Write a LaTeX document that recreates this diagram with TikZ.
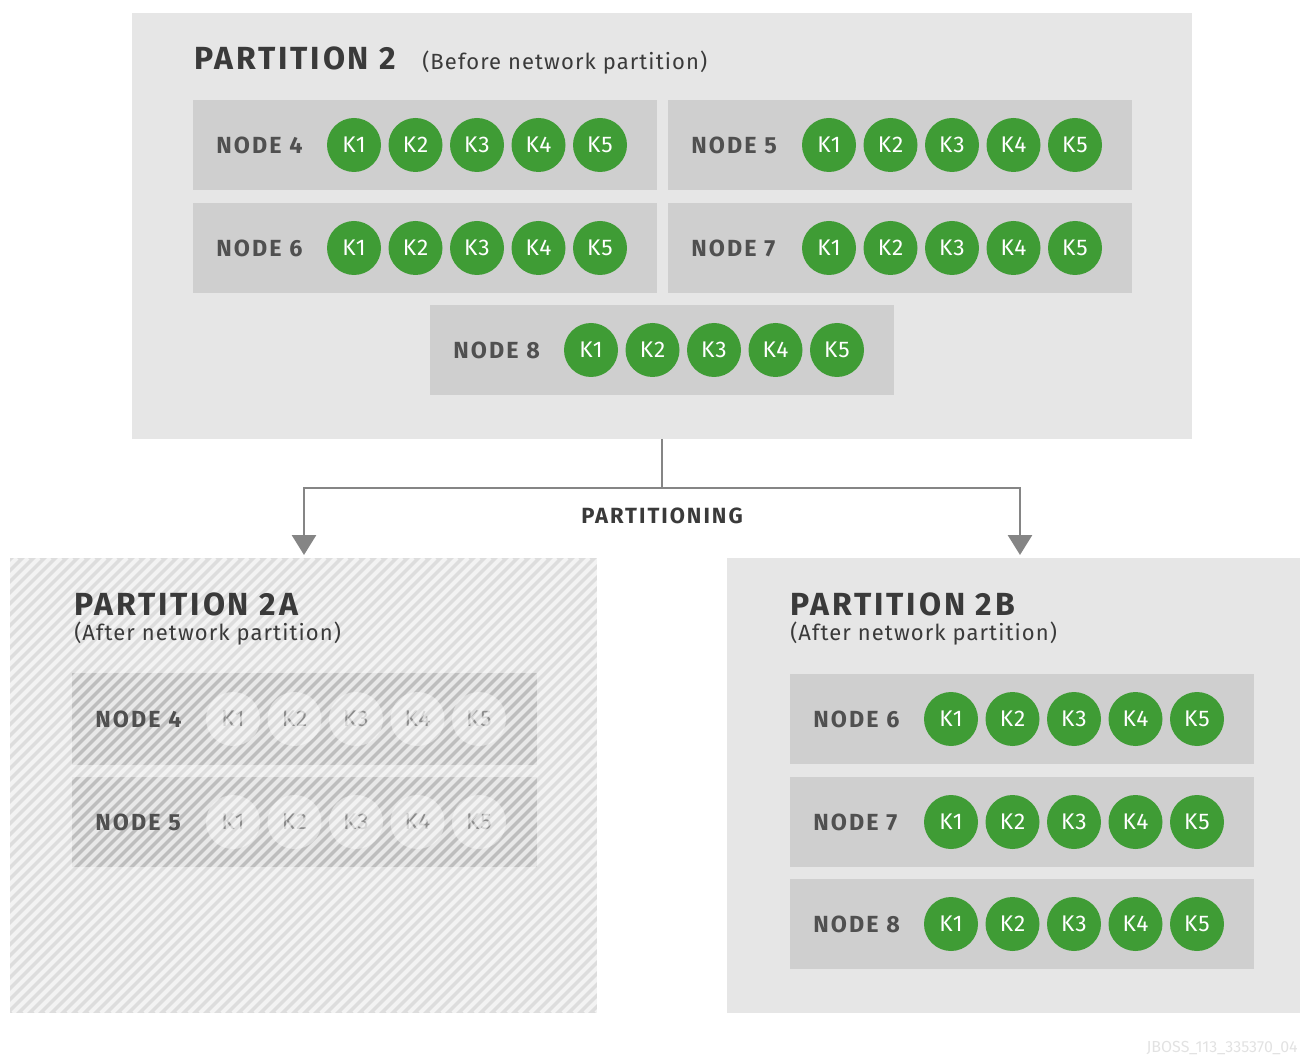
\documentclass[tikz,border=0pt]{standalone}
\usepackage{fontspec}
\setmainfont{Fira Sans}
\usetikzlibrary{fit,arrows.meta}
\definecolor{bgpart}{HTML}{E6E6E6}
\definecolor{nodebox}{HTML}{CFCFCF}
\definecolor{kgreen}{HTML}{3F9C35}
\definecolor{labelgray}{HTML}{505050}
\definecolor{titlegray}{HTML}{3A3A3A}
\definecolor{linegray}{HTML}{858585}
\definecolor{hatchbg}{HTML}{DDDDDD}
\definecolor{hatchbox}{HTML}{BEBEBE}
\definecolor{hatchkey}{HTML}{DADADA}
\definecolor{hatchtext}{HTML}{8C8C8C}
\definecolor{marktext}{HTML}{E2E2E2}
\newcommand{\mkbox}[4]{% name, left x, top y, style
  \node[#4, fit={(#2,#3)(#2+464,#3+90)}] (#1) {};}
\newcommand{\mkkeys}[4]{% name, left x, top y, style
  \foreach \k in {1,...,5}
    \node[#4] (#1k\k) at ({#2+161+61.5*(\k-1)}, #3+45) {K\k};}
\newcommand{\mklabel}[4]{% name, left x, top y, number
  \node[nlabel] (#1lab) at (#2+23,#3+45) {NODE #4};}
\begin{document}
\begin{tikzpicture}[x=0.75pt,y=-0.75pt,
  partbox/.style={fill=bgpart, draw=none, inner sep=0},
  hatchpart/.style={fill=hatchbg, draw=none, inner sep=0},
  nodebg/.style={fill=nodebox, draw=none, inner sep=0},
  hatchnode/.style={fill=hatchbox, draw=none, inner sep=0},
  key/.style={circle, fill=kgreen, text=white, minimum size=40.5pt, inner sep=0, font=\fontsize{17}{17}\selectfont\addfontfeatures{LetterSpace=4}},
  fadekey/.style={circle, fill=hatchkey, text=hatchtext, minimum size=40.5pt, inner sep=0, font=\fontsize{17}{17}\selectfont\addfontfeatures{LetterSpace=4}},
  nlabel/.style={anchor=west, text=labelgray, inner sep=0, font=\bfseries\fontsize{17.5}{17.5}\selectfont\addfontfeatures{LetterSpace=9}},
  title/.style={anchor=base west, text=titlegray, inner sep=0, font=\bfseries\fontsize{24}{24}\selectfont\addfontfeatures{LetterSpace=9}},
  subtitle/.style={anchor=base west, text=titlegray, inner sep=0, font=\fontsize{16.5}{16.5}\selectfont\addfontfeatures{LetterSpace=5}},
  conn/.style={draw=linegray, line width=2.2pt},
  arr/.style={conn, -{Triangle[width=18pt,length=15pt]}},
  stripe/.style={draw=white, opacity=0.65, line width=3pt}
]
\useasboundingbox (0,0) rectangle (1300,1055);

% ---- Partition 2 (before)
\node[partbox, fit={(132,13)(1192,439)}] (p2) {};
\node[title] (p2title) at (194,70) {PARTITION 2};
\node[subtitle] (p2sub) at (422,70) {(Before network partition)};
\mkbox{n4}{193}{100}{nodebg}\mklabel{n4}{193}{100}{4}\mkkeys{n4}{193}{100}{key}
\mkbox{n5}{668}{100}{nodebg}\mklabel{n5}{668}{100}{5}\mkkeys{n5}{668}{100}{key}
\mkbox{n6}{193}{203}{nodebg}\mklabel{n6}{193}{203}{6}\mkkeys{n6}{193}{203}{key}
\mkbox{n7}{668}{203}{nodebg}\mklabel{n7}{668}{203}{7}\mkkeys{n7}{668}{203}{key}
\mkbox{n8}{430}{305}{nodebg}\mklabel{n8}{430}{305}{8}\mkkeys{n8}{430}{305}{key}

% ---- Partitioning connector
\coordinate (jc) at (662,488);
\coordinate (al) at (304,555);
\coordinate (ar) at (1020,555);
\draw[conn] (p2.south) -- (jc);
\draw[arr] (jc) -| (al);
\draw[arr] (jc) -| (ar);
\node[text=titlegray, inner sep=0, font=\bfseries\fontsize{16.5}{16.5}\selectfont\addfontfeatures{LetterSpace=9}] (plabel) at (662,516) {PARTITIONING};

% ---- Partition 2A (hatched)
\node[hatchpart, fit={(10,558)(597,1013)}] (p2a) {};
\node[hatchnode, fit={(72,673)(537,765)}] (a4) {};
\node[hatchnode, fit={(72,777)(537,867)}] (a5) {};
\mkkeys{a4}{72}{674}{fadekey}
\mkkeys{a5}{72}{777}{fadekey}
\begin{scope}
  \clip (10,558) rectangle (597,1013);
  \foreach \i in {-470,-459,...,600}
    \draw[stripe] (10+\i,1013) -- (10+\i+455,558);
\end{scope}
\node[title] (p2atitle) at (74,615) {PARTITION 2A};
\node[subtitle] (p2asub) at (74,640) {(After network partition)};
\mklabel{a4}{72}{674}{4}
\mklabel{a5}{72}{777}{5}

% ---- Partition 2B
\node[partbox, fit={(727,558)(1300,1013)}] (p2b) {};
\node[title] (p2btitle) at (790,615) {PARTITION 2B};
\node[subtitle] (p2bsub) at (790,640) {(After network partition)};
\mkbox{b6}{790}{674}{nodebg}\mklabel{b6}{790}{674}{6}\mkkeys{b6}{790}{674}{key}
\mkbox{b7}{790}{777}{nodebg}\mklabel{b7}{790}{777}{7}\mkkeys{b7}{790}{777}{key}
\mkbox{b8}{790}{879}{nodebg}\mklabel{b8}{790}{879}{8}\mkkeys{b8}{790}{879}{key}

% ---- watermark
\node[anchor=base east, text=marktext, inner sep=0, font=\fontsize{12}{12}\selectfont] (mark) at (1298,1052) {JBOSS\_113\_335370\_04};
\end{tikzpicture}
\end{document}
